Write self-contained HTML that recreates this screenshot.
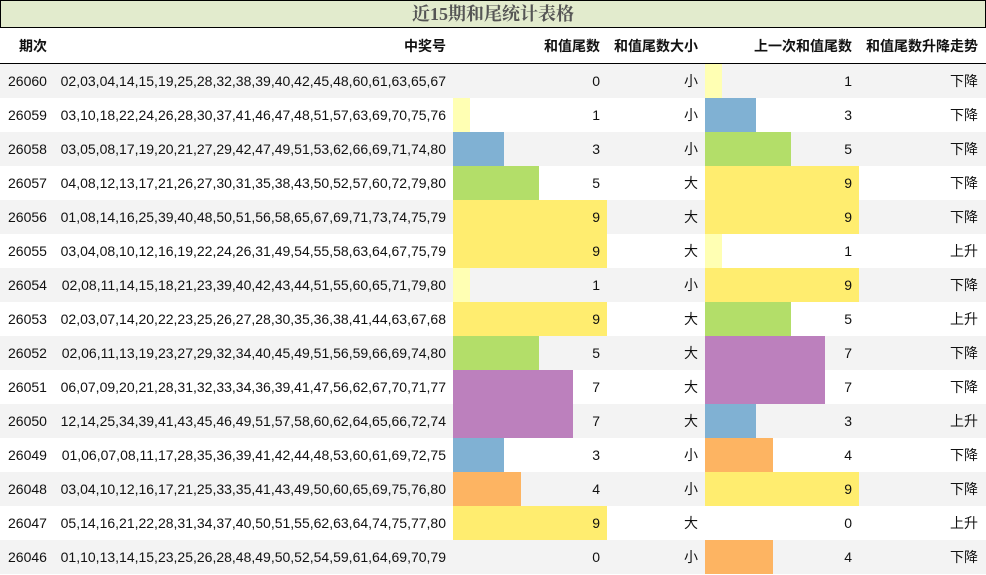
<!DOCTYPE html>
<html><head><meta charset="utf-8"><style>
*{margin:0;padding:0;box-sizing:border-box}
body{width:986px;height:575px;background:#fff;position:relative;overflow:hidden;font-family:"Liberation Sans","Noto Sans CJK SC",sans-serif;font-size:14px;color:#111}
#t{position:absolute;left:0;top:0;width:986px;height:28px;background:#e2ebcd;border:1px solid #000;text-align:center;font:bold 18px/26px "Liberation Serif","Noto Serif CJK SC",serif;color:#555}
.h{position:absolute;top:28px;height:35px;line-height:37px;font-weight:bold;font-size:14px}
#hl{position:absolute;left:0;top:63px;width:986px;height:1px;background:#000}
.r{position:absolute;left:0;width:986px;height:34px}
.c{position:absolute;top:0;height:34px;line-height:34px;white-space:nowrap}
.b{position:absolute;top:0;height:34px}
</style></head><body>
<div id="t">近15期和尾统计表格</div>
<div class="h" style="left:19px">期次</div>
<div class="h" style="right:540px">中奖号</div>
<div class="h" style="right:386px">和值尾数</div>
<div class="h" style="right:288px">和值尾数大小</div>
<div class="h" style="right:134px">上一次和值尾数</div>
<div class="h" style="right:8px">和值尾数升降走势</div>
<div id="hl"></div>
<div id="rows"></div>
<script>
var d=[["26060","02,03,04,14,15,19,25,28,32,38,39,40,42,45,48,60,61,63,65,67",0,"小",1,"下降"],
["26059","03,10,18,22,24,26,28,30,37,41,46,47,48,51,57,63,69,70,75,76",1,"小",3,"下降"],
["26058","03,05,08,17,19,20,21,27,29,42,47,49,51,53,62,66,69,71,74,80",3,"小",5,"下降"],
["26057","04,08,12,13,17,21,26,27,30,31,35,38,43,50,52,57,60,72,79,80",5,"大",9,"下降"],
["26056","01,08,14,16,25,39,40,48,50,51,56,58,65,67,69,71,73,74,75,79",9,"大",9,"下降"],
["26055","03,04,08,10,12,16,19,22,24,26,31,49,54,55,58,63,64,67,75,79",9,"大",1,"上升"],
["26054","02,08,11,14,15,18,21,23,39,40,42,43,44,51,55,60,65,71,79,80",1,"小",9,"下降"],
["26053","02,03,07,14,20,22,23,25,26,27,28,30,35,36,38,41,44,63,67,68",9,"大",5,"上升"],
["26052","02,06,11,13,19,23,27,29,32,34,40,45,49,51,56,59,66,69,74,80",5,"大",7,"下降"],
["26051","06,07,09,20,21,28,31,32,33,34,36,39,41,47,56,62,67,70,71,77",7,"大",7,"下降"],
["26050","12,14,25,34,39,41,43,45,46,49,51,57,58,60,62,64,65,66,72,74",7,"大",3,"上升"],
["26049","01,06,07,08,11,17,28,35,36,39,41,42,44,48,53,60,61,69,72,75",3,"小",4,"下降"],
["26048","03,04,10,12,16,17,21,25,33,35,41,43,49,50,60,65,69,75,76,80",4,"小",9,"下降"],
["26047","05,14,16,21,22,28,31,34,37,40,50,51,55,62,63,64,74,75,77,80",9,"大",0,"上升"],
["26046","01,10,13,14,15,23,25,26,28,48,49,50,52,54,59,61,64,69,70,79",0,"小",4,"下降"]];
var col={0:"transparent",1:"#ffffb3",3:"#80b1d3",4:"#fdb462",5:"#b3de69",7:"#bc80bd",9:"#ffed6f"};
var h="";
d.forEach(function(r,i){
var y=64+34*i,bg=i%2==0?"#f3f3f3":"#fff";
h+='<div class="r" style="top:'+y+'px;background:'+bg+'">'+
'<div class="b" style="left:453px;width:'+Math.round(r[2]*17.1)+'px;background:'+col[r[2]]+'"></div>'+
'<div class="b" style="left:705px;width:'+Math.round(r[4]*17.1)+'px;background:'+col[r[4]]+'"></div>'+
'<div class="c" style="left:8px">'+r[0]+'</div>'+
'<div class="c" style="right:540px">'+r[1]+'</div>'+
'<div class="c" style="right:386px">'+r[2]+'</div>'+
'<div class="c" style="right:288px">'+r[3]+'</div>'+
'<div class="c" style="right:134px">'+r[4]+'</div>'+
'<div class="c" style="right:8px">'+r[5]+'</div></div>';});
document.getElementById("rows").innerHTML=h;
</script>
</body></html>
